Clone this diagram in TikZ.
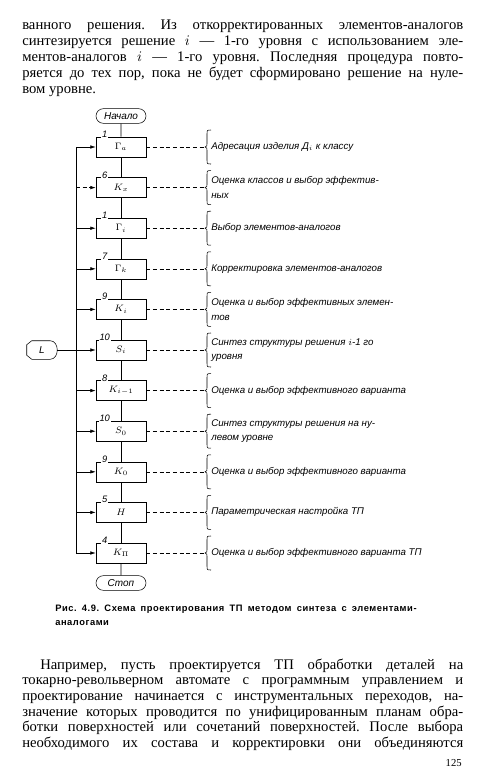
\documentclass[tikz,border=0pt]{standalone}
\usepackage{fontspec}
\setmainfont{Liberation Serif}
\newfontfamily\chert{Liberation Sans}
\newfontfamily\podpis[LetterSpace=6]{Liberation Sans}
\usetikzlibrary{arrows.meta,calc,shapes.misc}
\newcommand{\polnaya}[2]{\makebox[#1][s]{#2}}
\newcommand{\skobka}[2]{\begin{scope}[shift={(#1,#2)}]\draw (6,-17) .. controls (2,-17) .. (2,-13) -- (2,-3) .. controls (2,-1) .. (0,0) .. controls (2,1) .. (2,3) -- (2,13) .. controls (2,17) .. (6,17);\end{scope}}
\frenchspacing

\begin{document}
\begin{tikzpicture}[x=0.75pt,y=-0.75pt,>={Latex[length=4pt,width=2.6pt]},
  blok/.style={draw,minimum width=37.5pt,minimum height=15pt,inner sep=0pt,font=\scriptsize},
  term/.style={draw,rounded rectangle,minimum width=37.5pt,minimum height=11pt,inner sep=0pt,font=\chert\itshape\fontsize{7.5}{8}\selectfont},
  nomer/.style={fill=white,inner sep=0.6pt,font=\chert\itshape\fontsize{7}{8}\selectfont},
  poyasn/.style={anchor=west,align=left,inner sep=0pt,font=\chert\itshape\fontsize{7.3}{11}\selectfont},
  stroka/.style={anchor=base west,inner sep=0pt,font=\fontsize{11}{13}\selectfont},
  shtrih/.style={dash pattern=on 3pt off 2pt}]
  \def\lev{22}\def\shir{330.75pt}\def\xb{121}\def\xs{76}\def\xk{205}

  \fill[white] (0,0) rectangle (485,776);
  \useasboundingbox (0,0) rectangle (485,776);

  % текст над рисунком
  \foreach \s [count=\k] in {
    {ванного решения. Из откорректированных элементов-аналогов},
    {синтезируется решение $i$ — 1-го уровня с использованием эле-},
    {ментов-аналогов $i$ — 1-го уровня. Последняя процедура повто-},
    {ряется до тех пор, пока не будет сформировано решение на нуле-}}
    \node[stroka] (t\k) at (\lev,{29+16*(\k-1)}) {\polnaya{\shir}{\s}};
  \node[stroka] (t5) at (\lev,93) {вом уровне.};

  % схема
  \node[term] (nach) at (\xb,116) {Начало};
  \foreach \num/\lab/\txt [count=\i] in {
    1/{$\Gamma_a$}/{Адресация изделия Д$_i$ к классу},
    6/{$K_x$}/{Оценка классов и выбор эффектив-\\ных},
    1/{$\Gamma_i$}/{Выбор элементов-аналогов},
    7/{$\Gamma_k$}/{Корректировка элементов-аналогов},
    9/{$K_i$}/{Оценка и выбор эффективных элемен-\\тов},
    10/{$S_i$}/{Синтез структуры решения $i$-1 го\\уровня},
    8/{$K_{i-1}$}/{Оценка и выбор эффективного варианта},
    10/{$S_0$}/{Синтез структуры решения на ну-\\левом уровне},
    9/{$K_0$}/{Оценка и выбор эффективного варианта},
    5/{$H$}/{Параметрическая настройка ТП},
    4/{$K_\Pi$}/{Оценка и выбор эффективного варианта ТП}}{
    \pgfmathsetmacro\yy{147+40.6*(\i-1)}
    \node[blok] (b\i) at (\xb,\yy) {\lab};
    \node[nomer] (n\i) at ($(b\i.north west)+(9,-2.5)$) {\num};
    \coordinate (w\i) at (\xs,\yy);
    \coordinate (s\i) at (\xk,\yy);
    \skobka{\xk}{\yy}
    \draw[shtrih] (b\i.east) -- (s\i);
    \node[poyasn] (p\i) at (\xk+6,\yy) {\txt};
  }
  \node[term] (stop) at (\xb,583) {Стоп};

  \draw (nach) -- (b1);
  \foreach \i [count=\j from 2] in {1,...,10} \draw (b\i) -- (b\j);
  \draw (b11) -- (stop);

  % шина возврата
  \draw (w1) -- (w11);
  \foreach \i in {1,3,4,5,7,8,9,10,11} \draw[->] (w\i) -- (b\i.west);
  \draw[->,shtrih] (w2) -- (b2.west);

  % вход L
  \node[inner sep=0pt,minimum width=22.5pt,minimum height=13.5pt,font=\chert\itshape\fontsize{7.5}{8}\selectfont] (L) at (42,350) {L};
  \draw ($(L.north west)+(5,0)$) -- ($(L.north east)+(-7,0)$) to[out=0,in=90] (L.east)
        to[out=-90,in=0] ($(L.south east)+(-7,0)$) -- ($(L.south west)+(5,0)$)
        -- ($(L.south west)+(0,-4)$) -- ($(L.north west)+(0,4)$) -- cycle;
  \draw[->] (L.east) -- (b6.west);

  % подпись
  \node[anchor=base west,inner sep=0pt,align=left,font=\podpis\bfseries\fontsize{7}{10}\selectfont] (cap) at (55,625)
    {\polnaya{271pt}{Рис. 4.9. Схема проектирования ТП методом синтеза с элементами-}\\аналогами};

  % текст под рисунком
  \node[stroka] (q1) at (40,669) {\polnaya{317.25pt}{Например, пусть проектируется ТП обработки деталей на}};
  \foreach \s [count=\k from 2] in {
    {токарно-револьверном автомате с программным управлением и},
    {проектирование начинается с инструментальных переходов, на-},
    {значение которых проводится по унифицированным планам обра-},
    {ботки поверхностей или сочетаний поверхностей. После выбора},
    {необходимого их состава и корректировки они объединяются}}
    \node[stroka] (q\k) at (\lev,{669+15.7*(\k-1)}) {\polnaya{\shir}{\s}};
  \node[anchor=base east,inner sep=0pt,font=\fontsize{8}{9}\selectfont] (str) at (462,766) {125};
\end{tikzpicture}
\end{document}
